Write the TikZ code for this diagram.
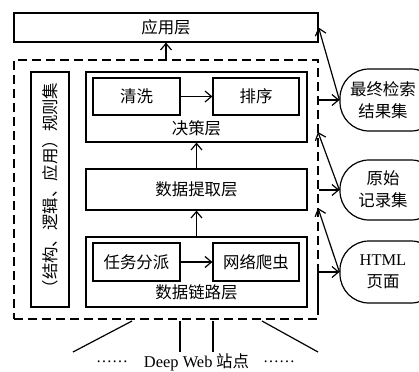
\documentclass[tikz,border=0pt]{standalone}
\usepackage{fontspec}
\setmainfont{Noto Sans CJK SC}
\newfontfamily\lat{Liberation Serif}
\usetikzlibrary{arrows.meta,calc}
\begin{document}
\begin{tikzpicture}[x=1bp,y=-1bp,
  txt/.style={inner sep=0pt,font=\fontsize{16.5}{22}\selectfont,align=center},
  box/.style={draw,line width=1.2bp,inner sep=0pt,font=\fontsize{16.5}{22}\selectfont},
  dbox/.style={draw,line width=2bp,dash pattern=on 9bp off 5bp,inner sep=0pt},
  ebox/.style={draw,line width=1.2bp,rounded corners=29bp,inner sep=0pt},
  arr/.style={line width=1.2bp,-{Straight Barb[length=6.5bp,width=11bp]}},
  ln/.style={line width=1.2bp}]
\useasboundingbox (0,0) rectangle (419,372);
\begin{scope}
\clip (0,0) rectangle (419,372);
% top and frame
\node[box,minimum width=304bp,minimum height=29bp] (app) at (166,27.5) {应用层};
\node[dbox,minimum width=304bp,minimum height=259bp] (outer) at (166,189.5) {};
\node[box,rotate=90,minimum width=235bp,minimum height=38bp] (rules) at (50,189.5) {（结构、逻辑、应用）规则集};
% decision layer
\node[box,minimum width=221bp,minimum height=70bp] (decide) at (196.5,107) {};
\node[box,minimum width=87bp,minimum height=37bp] (clean) at (136.5,96.5) {清洗};
\node[box,minimum width=86bp,minimum height=37bp] (sort) at (256,96.5) {排序};
\node[txt] (decidelbl) at (196.5,128) {决策层};
% extraction layer
\node[box,minimum width=221bp,minimum height=41bp] (extract) at (196.5,189.5) {数据提取层};
% link layer
\node[box,minimum width=221bp,minimum height=70bp] (link) at (196.5,272) {};
\node[box,minimum width=87bp,minimum height=38bp] (task) at (136.5,262) {任务分派};
\node[box,minimum width=86bp,minimum height=38bp] (crawl) at (256,262) {网络爬虫};
\node[txt] (linklbl) at (196.5,292) {数据链路层};
% right-hand result shapes
\node[ebox,minimum width=100bp,minimum height=62bp] (res) at (390,100) {};
\node[txt] (restxt) at (383,100) {最终检索\\结果集};
\node[ebox,minimum width=100bp,minimum height=60bp] (raw) at (390,190) {};
\node[txt] (rawtxt) at (383,189) {原始\\记录集};
\node[ebox,minimum width=100bp,minimum height=62bp] (html) at (390,272) {};
\node[txt] (htmltxt) at (383,272) {{\lat HTML}\\页面};
\end{scope}
% inner arrows
\draw[arr] (outer.north) -- (app.south);
\draw[arr] (clean) -- (sort);
\draw[arr] (extract) -- (decide);
\draw[arr] (link) -- (extract);
\draw[arr] (task) -- (crawl);
% right connectors
\coordinate (p1) at (318,132);
\coordinate (p2) at (318,208);
\coordinate (p3) at (318,310);
\draw[arr] (outer.east |- res.west) -- (res.west);
\draw[arr] (res.west) -- (app.east);
\draw[arr] (outer.east |- raw.west) -- (raw.west);
\draw[arr] (raw.west) -- (p1);
\draw[arr] (p3) |- (html.west);
\draw[arr] (html.west) -- (p2);
% bottom sites
\coordinate (b1) at (132,321); \coordinate (c1) at (73,352);
\coordinate (b2) at (180,321); \coordinate (c2) at (180,352);
\coordinate (b3) at (213,321); \coordinate (c3) at (213,352);
\coordinate (b4) at (262,321); \coordinate (c4) at (318,352);
\draw[ln] (b1) -- (c1);
\draw[ln] (b2) -- (c2);
\draw[ln] (b3) -- (c3);
\draw[ln] (b4) -- (c4);
\node[inner sep=0pt,font=\lat\fontsize{16}{18}\selectfont] (dotsl) at (112,362) {……};
\node[inner sep=0pt,font=\fontsize{16.5}{18}\selectfont] (site) at (196.5,362) {{\lat\fontsize{16.5}{18}\selectfont Deep Web} 站点};
\node[inner sep=0pt,font=\lat\fontsize{16}{18}\selectfont] (dotsr) at (279,362) {……};
\end{tikzpicture}
\end{document}
